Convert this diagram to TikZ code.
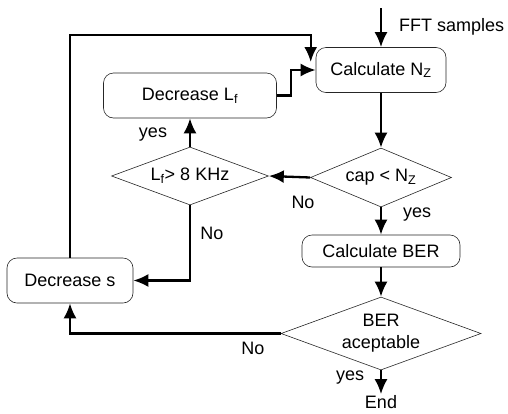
\documentclass[tikz,border=0pt]{standalone}
\usepackage{fontspec}
\setmainfont{Liberation Sans}
\usetikzlibrary{arrows.meta,shapes.geometric}
\tikzset{
    stepbox/.style={rectangle, rounded corners=10pt, draw=black!85, line width=0.6pt, inner sep=1pt},
    test/.style={diamond, draw=black!85, line width=0.6pt, aspect=2.7, inner sep=1pt, align=center},
    flow/.style={line width=2.3pt, -{Latex[length=15pt,width=13pt]}},
    tag/.style={inner sep=1pt}
}

\begin{document}
\begin{tikzpicture}
  [
    x                 = 1pt,
    y                 = -1pt,
    every node/.style = {font=\fontsize{18}{22}\selectfont},
  ]
  \useasboundingbox (0,0) rectangle (508,413);

  % boxes and tests
  \node [stepbox, minimum width=130pt, minimum height=45pt] (calc)  at (381,70)    {Calculate N\textsubscript{Z}};
  \node [stepbox, minimum width=173pt, minimum height=45pt] (decLf) at (190,95.5)  {Decrease L\textsubscript{f}};
  \node [test, minimum width=157pt, minimum height=58pt]    (lf)    at (190,176)   {L\textsubscript{f}> 8 KHz};
  \node [test, minimum width=141pt, minimum height=59pt]    (cap)   at (381,177.5) {cap < N\textsubscript{Z}};
  \node [stepbox, minimum width=158pt, minimum height=32pt] (ber)   at (381,251)   {Calculate BER};
  \node [test, minimum width=200pt, minimum height=73pt]    (berok) at (381,333.5) {BER\\aceptable};
  \node [stepbox, minimum width=126pt, minimum height=45pt] (decS)  at (70,280.5)  {Decrease s};
  \node [tag] (endn) at (381,402) {End};
  \coordinate (start) at (381,8);

  % labels
  \node [tag, anchor=west] (lblfft) at (398,27) {FFT samples};
  \node [tag] (lbla) at (153,135) {yes};
  \node [tag] (lblb) at (303,202) {No};
  \node [tag] (lblc) at (417,215) {yes};
  \node [tag] (lbld) at (212,233) {No};
  \node [tag] (lble) at (253,348) {No};
  \node [tag] (lblf) at (350,378) {yes};

  % connectors
  \draw [flow] (start) -- (calc.north);
  \draw [flow] (calc.south) -- (cap.north);
  \draw [flow] (cap.west) -- (lf.east);
  \draw [flow] (cap.south) -- (ber.north);
  \draw [flow] (ber.south) -- (berok.north);
  \draw [flow] (berok.south) -- (endn.north);
  \draw [flow] (lf.north) -- (decLf.south);
  \draw [flow] (decLf.east) -- ++(14,0) |- (calc.west);
  \draw [flow] (lf.south) |- (decS.east);
  \draw [flow] (berok.west) -| (decS.south);
  \draw [flow] (decS.north) |- ([xshift=-5pt,yshift=12pt]calc.north west) -- ([xshift=-5pt,yshift=8pt]calc.west);
\end{tikzpicture}
\end{document}
